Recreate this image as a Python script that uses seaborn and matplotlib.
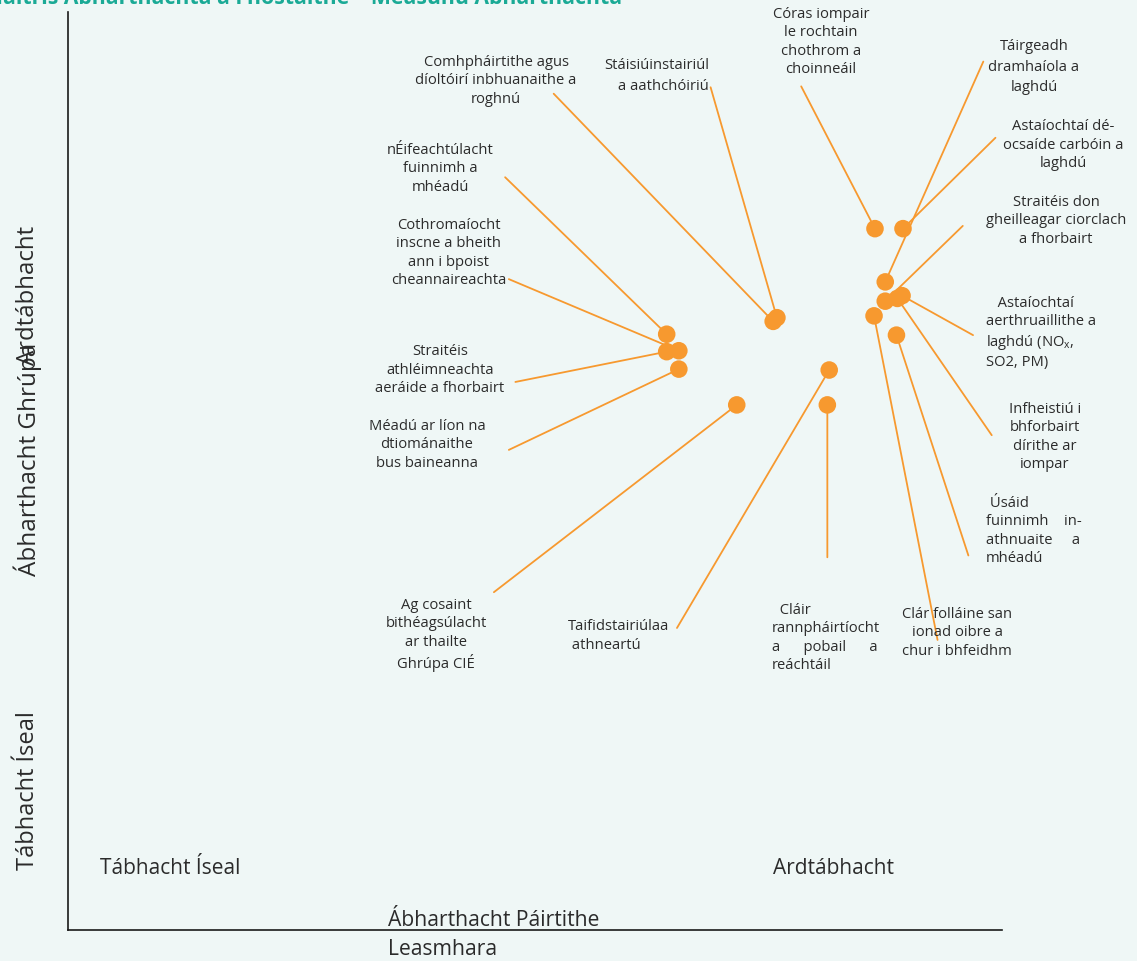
import matplotlib
matplotlib.use("Agg")
import matplotlib.pyplot as plt
import seaborn as sns
import pandas as pd

# data: group materiality (y) vs stakeholder materiality (x), 0-10 scale
topics = [
    "Córas iompair\nle rochtain\nchothrom a\nchoinneáil",
    "Táirgeadh\ndramhaíola a\nlaghdú",
    "Astaíochtaí dé-\nocsaíde carbóin a\nlaghdú",
    "Straitéis don\ngheilleagar ciorclach\na fhorbairt",
    "   Astaíochtaí\naerthruaillithe a\nlaghdú (NO$_x$,\nSO2, PM)",
    "Infheistiú i\nbhforbairt\ndírithe ar\niompar",
    "Clár folláine san\nionad oibre a\nchur i bhfeidhm",
    " Úsáid\nfuinnimh    in-\nathnuaite     a\nmhéadú",
    "Comhpháirtithe agus\ndíoltóirí inbhuanaithe a\nroghnú",
    "Stáisiúinstairiúl\na aathchóiriú",
    "  Cláir\nrannpháirtíocht\na      pobail      a\nreáchtáil",
    "Taifidstairiúlaa\n athneartú",
    "Ag cosaint\nbithéagsúlacht\nar thailte\nGhrúpa CIÉ",
    "nÉifeachtúlacht\nfuinnimh a\nmhéadú",
    "Cothromaíocht\ninscne a bheith\nann i bpoist\ncheannaireachta",
    "Straitéis\nathléimneachta\naeráide a fhorbairt",
    "Méadú ar líon na\ndtiománaithe\nbus baineanna",
]
stakeholder = [8.64, 8.75, 8.94, 8.75, 8.93, 8.88, 8.63, 8.87,
               7.55, 7.59, 8.13, 8.15, 7.16, 6.41, 6.54, 6.41, 6.54]
group = [7.64, 7.06, 7.64, 6.85, 6.91, 6.88, 6.69, 6.48,
         6.63, 6.67, 5.72, 6.10, 5.72, 6.49, 6.31, 6.30, 6.11]

# layout: leader line ends (data coords) and label blocks (pixels)
leader_end = [(7.85, 9.19), (9.80, 9.46), (9.93, 8.63), (9.58, 7.67),
              (9.69, 6.48), (9.89, 5.39), (9.31, 3.16), (9.64, 4.08),
              (5.20, 9.11), (6.88, 9.18), (8.13, 4.06), (6.52, 3.29),
              (4.56, 3.68), (4.68, 8.20), (4.72, 7.09), (4.79, 5.97),
              (4.72, 5.23)]
label_px = [(821, 42, "center", 1.3), (1034, 67, "center", 1.47),
            (1063, 145, "center", 1.3), (1056, 221, "center", 1.3),
            (986, 333, "left", 1.3), (1045, 437, "center", 1.3),
            (957, 633, "center", 1.3), (986, 531, "left", 1.3),
            (496, 81, "center", 1.3), (709, 76, "right", 1.5),
            (772, 638, "left", 1.3), (568, 636, "left", 1.3),
            (436, 635, "center", 1.3), (440, 169, "center", 1.3),
            (449, 253, "center", 1.3), (440, 370, "center", 1.3),
            (427, 445, "center", 1.3)]

df = pd.DataFrame({"topic": topics, "x": stakeholder, "y": group})

W, H = 1137, 961
bg = "#EFF7F6"
orange = "#F7992F"
txt = "#2B2B2B"

sns.set_theme(style="white")
plt.rcParams["font.family"] = ["Open Sans", "DejaVu Sans"]
plt.rcParams["mathtext.fontset"] = "custom"
plt.rcParams["mathtext.rm"] = "Open Sans"
plt.rcParams["mathtext.it"] = "Open Sans"

fig = plt.figure(figsize=(W / 100, H / 100), dpi=100, facecolor=bg)
ax = fig.add_axes([68 / W, 1 - 930 / H, (1002 - 68) / W, (930 - 12) / H])
ax.set_facecolor(bg)


def px(x, y):
    return x / W, 1 - y / H


for (ex, ey), x, y in zip(leader_end, df["x"], df["y"]):
    ax.annotate("", xy=(x, y), xytext=(ex, ey),
                arrowprops=dict(arrowstyle="-", color=orange, lw=1.3,
                                shrinkA=0, shrinkB=0),
                annotation_clip=False, zorder=1)

sns.scatterplot(data=df, x="x", y="y", ax=ax, s=160, color=orange,
                edgecolor="none", zorder=3, legend=False)

for t, (lx, ly, ha, ls) in zip(topics, label_px):
    fig.text(*px(lx, ly), t, ha=ha, va="center", multialignment=ha,
             fontsize=10.6, color=txt, linespacing=ls)

ax.set_xlim(0, 10)
ax.set_ylim(0, 10)
ax.set_xticks([])
ax.set_yticks([])
ax.set_xlabel("")
ax.set_ylabel("")
for side in ["top", "right"]:
    ax.spines[side].set_visible(False)
for side in ["left", "bottom"]:
    ax.spines[side].set_color("#1a1a1a")
    ax.spines[side].set_linewidth(1.2)

# quadrant / axis texts
fig.text(*px(100, 868), "Tábhacht Íseal", ha="left", va="center", fontsize=15, color=txt)
fig.text(*px(773, 868), "Ardtábhacht", ha="left", va="center", fontsize=15, color=txt)
fig.text(*px(388, 926), "Ábharthacht Páirtithe", ha="left", va="baseline",
         fontsize=15.2, color=txt)
fig.text(*px(388, 955), "Leasmhara", ha="left", va="baseline",
         fontsize=15.2, color=txt)
fig.text(*px(28, 791), "Tábhacht Íseal", rotation=90, ha="center", va="center",
         fontsize=17, color=txt)
fig.text(*px(28, 459), "Ábharthacht Ghrúpa", rotation=90, ha="center", va="center",
         fontsize=17.5, color=txt)
fig.text(*px(28, 295), "Ardtábhacht", rotation=90, ha="center", va="center",
         fontsize=17.3, color=txt)

fig.text(*px(622, 4), "Maitris Ábharthachta a Fhostaithe – Measúnú Ábharthachta",
         ha="right", va="baseline", fontsize=15.3, fontweight="bold", color="#1BAA96")

fig.savefig("out.png", dpi=100, facecolor=bg)
